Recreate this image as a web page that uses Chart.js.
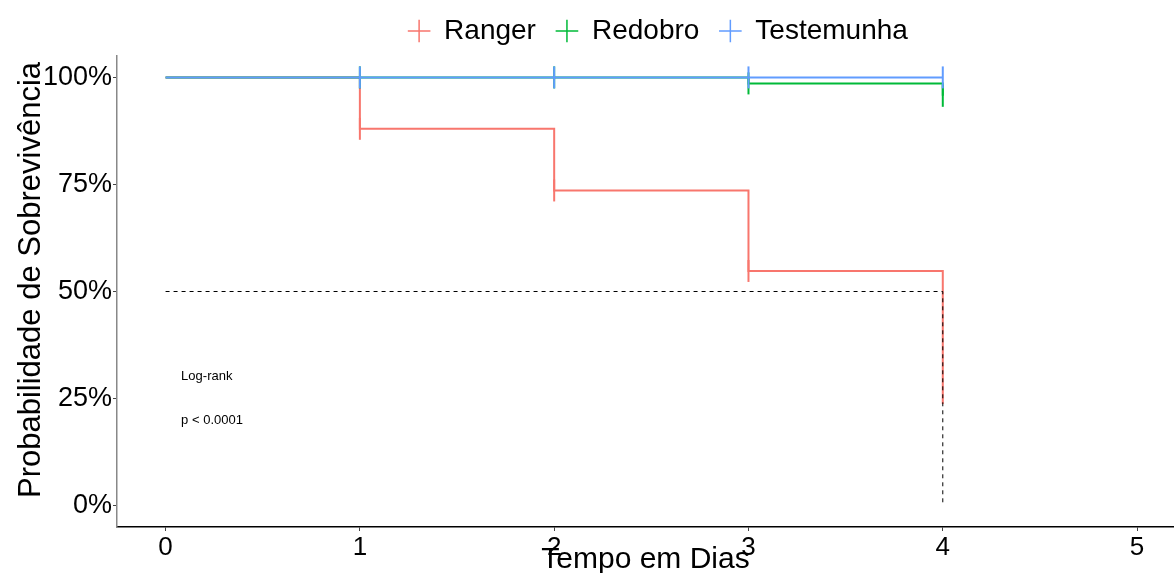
<!DOCTYPE html>
<html>
<head>
<meta charset="utf-8">
<script src="https://cdn.jsdelivr.net/npm/chart.js@4.4.1/dist/chart.umd.min.js"></script>
<style>
  html, body { margin: 0; padding: 0; background: #fff; overflow: hidden; }
  #wrap { width: 1174px; height: 573px; }
</style>
</head>
<body>
<div id="wrap"><canvas id="km"></canvas></div>
<script>
// Kaplan-Meier steps
const days = [0, 1, 2, 3, 4];
const ranger = [1, 0.88, 0.736, 0.548, 0.237];
const redobro = [1, 1, 1, 0.986, 0.957];
const testemunha = [1, 1, 1, 1, 1];
// censor ticks (1 = drawn)
const rangerCensor = [0, 1, 1, 1, 0];
const redobroCensor = [0, 1, 1, 1, 1];
const testemunhaCensor = [0, 1, 1, 1, 1];
// median survival guide
const medianX = [0, 4, 4];
const medianY = [0.5, 0.5, 0];
const xTicks = [0, 1, 2, 3, 4, 5];
const yTicks = [0, 0.25, 0.5, 0.75, 1];
const notes = ['Log-rank', 'p < 0.0001'];
const yTitle = 'Probabilidade de Sobrevivência';

const FONT = "'Liberation Sans', Arial, sans-serif";
Chart.defaults.font.family = FONT;
Chart.defaults.color = '#000';

const curve = (label, ys, censor, color, order) => ({
  label,
  data: days.map((d, i) => ({ x: d, y: ys[i] })),
  borderColor: color,
  backgroundColor: color,
  borderWidth: 2,
  stepped: 'before',
  fill: false,
  order,
  pointStyle: 'line',
  rotation: 90,
  pointRadius: censor.map(c => c ? 11 : 0),
  pointHoverRadius: 0,
  pointBorderWidth: 2,
  pointBorderColor: color
});

const notePlugin = {
  id: 'notes',
  afterLayout(chart) {
    // ggplot centres the legend over the panel, nudge it there
    const lg = chart.legend;
    lg.left += 71; lg.right += 71;
    lg.top -= 1; lg.bottom -= 1;
  },
  afterDraw(chart) {
    const { ctx, scales: { x, y } } = chart;
    ctx.save();
    ctx.font = '13px ' + FONT;
    ctx.fillStyle = '#000';
    ctx.textBaseline = 'middle';
    ctx.fillText(notes[0], x.getPixelForValue(0.08), y.getPixelForValue(0.302));
    ctx.fillText(notes[1], x.getPixelForValue(0.08), y.getPixelForValue(0.200));
    // y axis title, sits a bit above the panel centre like the original
    ctx.translate(31, 280);
    ctx.rotate(-Math.PI / 2);
    ctx.font = '31px ' + FONT;
    ctx.textAlign = 'center';
    ctx.fillText(yTitle, 0, 0);
    ctx.restore();
  }
};

const noPad = s => { s.paddingLeft = 0; s.paddingRight = 0; s.paddingTop = 0; s.paddingBottom = 0; };

new Chart(document.getElementById('km'), {
  type: 'line',
  plugins: [notePlugin],
  data: {
    datasets: [
      {
        label: '',
        data: medianX.map((v, i) => ({ x: v, y: medianY[i] })),
        borderColor: '#000',
        borderWidth: 1,
        borderDash: [4, 4],
        pointRadius: 0,
        fill: false,
        order: 0
      },
      curve('Ranger', ranger, rangerCensor, '#F8766D', 3),
      curve('Redobro', redobro, redobroCensor, '#00BA38', 2),
      curve('Testemunha', testemunha, testemunhaCensor, '#619CFF', 1)
    ]
  },
  options: {
    responsive: true,
    maintainAspectRatio: false,
    animation: false,
    layout: { autoPadding: false, padding: { top: -2, right: 0, bottom: 0, left: 0 } },
    plugins: {
      tooltip: { enabled: false },
      legend: {
        position: 'top',
        align: 'center',
        labels: {
          usePointStyle: true,
          boxWidth: 22,
          boxHeight: 16,
          padding: 20,
          font: { size: 28 },
          generateLabels(chart) {
            return chart.data.datasets
              .map((ds, i) => ({ ds, i }))
              .filter(o => o.ds.label)
              .map(o => ({
                text: o.ds.label,
                pointStyle: 'cross',
                strokeStyle: o.ds.borderColor,
                fillStyle: o.ds.borderColor,
                lineWidth: 1.5,
                datasetIndex: o.i,
                fontColor: '#000'
              }));
          }
        }
      }
    },
    scales: {
      x: {
        type: 'linear',
        min: -0.25,
        max: 5.19,
        afterBuildTicks: s => { s.ticks = xTicks.map(v => ({ value: v })); },
        afterFit: s => { s.height = 46; noPad(s); },
        grid: { display: true, drawOnChartArea: false, drawTicks: true, tickLength: 4, color: '#444' },
        border: { color: '#000', width: 1.5 },
        ticks: { font: { size: 26 }, padding: 1, maxRotation: 0, callback: v => String(v) },
        title: { display: true, text: 'Tempo em Dias', font: { size: 30 }, padding: { top: 0, bottom: -5 } }
      },
      y: {
        type: 'linear',
        min: -0.05,
        max: 1.05,
        afterBuildTicks: s => { s.ticks = yTicks.map(v => ({ value: v })); },
        afterFit: s => { s.width = 117; noPad(s); },
        grid: { display: true, drawOnChartArea: false, drawTicks: true, tickLength: 4, color: '#444' },
        border: { color: '#888', width: 1.5 },
        ticks: { font: { size: 27 }, padding: 1, callback: v => Math.round(v * 100) + '%' },
        title: { display: false }
      }
    }
  }
});
</script>
</body>
</html>
